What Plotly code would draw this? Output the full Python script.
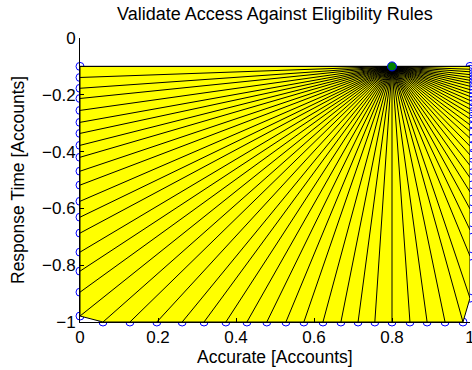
import plotly.graph_objects as go

# ---- data ----
center_x = 0.8
center_y = -0.1

left_y = [-0.1, -0.139, -0.177, -0.213, -0.255, -0.297, -0.336, -0.378, -0.42,
          -0.469, -0.518, -0.575, -0.631, -0.687, -0.754, -0.821, -0.895, -0.979]
bottom_x = [0.059, 0.128, 0.197, 0.262, 0.318, 0.374, 0.428, 0.479, 0.528, 0.574,
            0.623, 0.669, 0.713, 0.756, 0.80, 0.846, 0.890, 0.936, 0.982]
right_y = [-0.916, -0.768, -0.676, -0.602, -0.542, -0.492, -0.449, -0.412, -0.381,
           -0.353, -0.328, -0.306, -0.285, -0.267, -0.25, -0.234, -0.22, -0.206,
           -0.194, -0.182, -0.17, -0.159, -0.149, -0.139, -0.129, -0.119, -0.11, -0.1]

x_ticks = [0, 0.2, 0.4, 0.6, 0.8, 1]
x_ticktext = ["0", "0.2", "0.4", "0.6", "0.8", "1"]
y_ticks = [-1, -0.8, -0.6, -0.4, -0.2, 0]
y_ticktext = ["\u22121", "\u22120.8", "\u22120.6", "\u22120.4", "\u22120.2", "0"]

title_text = "Validate Access Against Eligibility Rules"
x_label = "Accurate [Accounts]"
y_label = "Response Time [Accounts]"

# ---- boundary vertices ----
bx = [0.0] * len(left_y) + bottom_x + [1.0] * len(right_y)
by = left_y + [-1.0] * len(bottom_x) + right_y

FONT = "Liberation Sans, Arial, Helvetica, sans-serif"

fig = go.Figure()

# blue open circles (drawn first, half hidden by patch)
fig.add_trace(go.Scatter(
    x=bx, y=by, mode="markers", cliponaxis=False,
    marker=dict(symbol="circle-open", size=8, color="#0000ff", line=dict(width=1, color="#0000ff")),
    hoverinfo="skip", showlegend=False))

# yellow patch
px = bx + [center_x, bx[0]]
py = by + [center_y, by[0]]
fig.add_trace(go.Scatter(
    x=px, y=py, mode="lines", fill="toself", fillcolor="#ffff00",
    line=dict(color="black", width=1), hoverinfo="skip", showlegend=False))

# fan lines
fx, fy = [], []
for xv, yv in zip(bx, by):
    fx += [center_x, xv, None]
    fy += [center_y, yv, None]
fig.add_trace(go.Scatter(
    x=fx, y=fy, mode="lines", line=dict(color="black", width=1),
    hoverinfo="skip", showlegend=False))

# center point
fig.add_trace(go.Scatter(
    x=[center_x], y=[center_y], mode="markers", cliponaxis=False,
    marker=dict(symbol="circle", size=9, color="#008000", line=dict(width=1, color="#0000ff")),
    hoverinfo="skip", showlegend=False))

axis_common = dict(
    showgrid=False, zeroline=False, showline=True, linecolor="black", linewidth=1,
    ticks="inside", ticklen=4, tickcolor="black", tickwidth=1, mirror=False,
    automargin=False, ticklabeloverflow="allow",
    tickfont=dict(family=FONT, size=17, color="black"))

fig.update_layout(
    width=472, height=370,
    margin=dict(l=80, r=2, t=38, b=48, pad=0),
    paper_bgcolor="white", plot_bgcolor="white",
    showlegend=False,
    xaxis=dict(range=[0, 1], tickvals=x_ticks, ticktext=x_ticktext, **axis_common),
    yaxis=dict(range=[-1, 0], tickvals=y_ticks, ticktext=y_ticktext, **axis_common),
    annotations=[
        dict(text=title_text, xref="paper", yref="paper", x=0.5, y=1, yshift=24,
             xanchor="center", yanchor="middle", showarrow=False,
             font=dict(family=FONT, size=18, color="black")),
        dict(text=x_label, xref="paper", yref="paper", x=0.5, y=0, yshift=-23,
             xanchor="center", yanchor="top", showarrow=False,
             font=dict(family=FONT, size=17.5, color="black")),
        dict(text=y_label, xref="paper", yref="paper", x=0, y=0.5, xshift=-62,
             xanchor="center", yanchor="middle", showarrow=False, textangle=-90,
             font=dict(family=FONT, size=17.5, color="black")),
    ],
)

fig.write_html("out.html")
